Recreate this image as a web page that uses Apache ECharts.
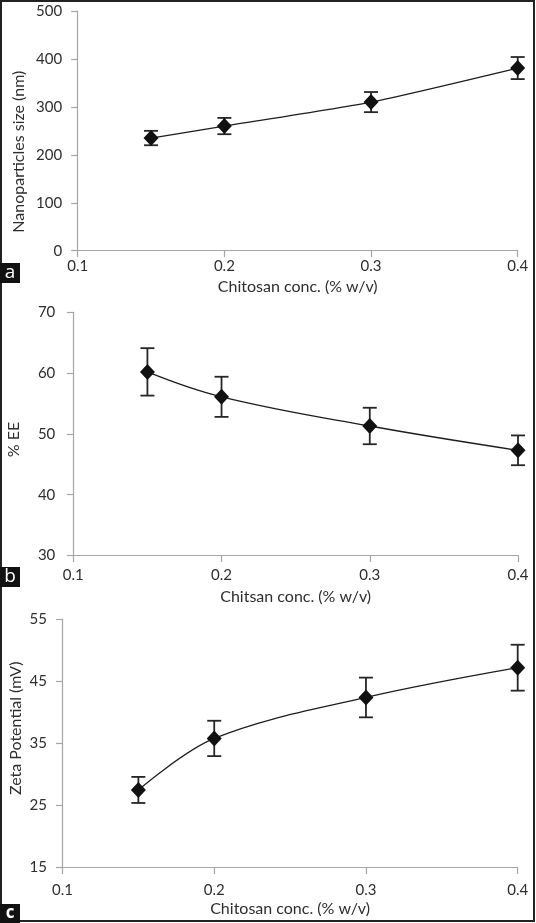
<!DOCTYPE html>
<html><head><meta charset="utf-8">
<script src="https://cdn.jsdelivr.net/npm/echarts@6/dist/echarts.min.js"></script>
<style>html,body{margin:0;padding:0;background:#fff}#c{width:536px;height:923px}</style>
</head><body><div id="c"></div>
<script>
// ---- data ----
const concX = [0.15, 0.2, 0.3, 0.4];
const xTicks = [0.1, 0.2, 0.3, 0.4];

const sizeNm = [235, 260, 310, 381];
const sizeErr = [15, 17, 21, 23];
const sizeTicks = [0, 100, 200, 300, 400, 500];

const eePct = [60.2, 56.1, 51.3, 47.3];
const eeErr = [3.9, 3.3, 3.0, 2.45];
const eeTicks = [30, 40, 50, 60, 70];

const zetaMv = [27.5, 35.8, 42.4, 47.2];
const zetaErr = [2.1, 2.85, 3.2, 3.7];
const zetaTicks = [15, 25, 35, 45, 55];

const xTitles = ['Chitosan conc. (% w/v)', 'Chitsan conc. (% w/v)', 'Chitosan conc. (% w/v)'];
const yTitles = ['Nanoparticles size (nm)', '% EE', 'Zeta Potential (mV)'];
const panelLetters = ['a', 'b', 'c'];

// ---- build ----
const FONT = 'Lato';
const TXT = '#2e2e2e';
const AX = '#a6a6a6';
const TICKFS = 15;
const TITLEFS = 16;
const grids = [
  {left: 77.7, top: 11, width: 440, height: 239.7},
  {left: 73.3, top: 312.3, width: 444.7, height: 243.2},
  {left: 62.5, top: 619.3, width: 455.2, height: 248.2}
];
const xLabelMargin = [7.5, 12, 15];
const xNameGap = [28, 33.5, 33];
const yLabelMargin = [15.5, 18, 15.5];
const panels = [
  {vals: sizeNm, err: sizeErr, ticks: sizeTicks, smooth: 0.2},
  {vals: eePct, err: eeErr, ticks: eeTicks, smooth: 0.4},
  {vals: zetaMv, err: zetaErr, ticks: zetaTicks, smooth: 0.35}
];

const xAxis = [], yAxis = [], series = [];
panels.forEach((p, i) => {
  xAxis.push({
    type: 'value', gridIndex: i, min: xTicks[0], max: xTicks[xTicks.length - 1],
    axisLine: {show: true, lineStyle: {color: AX, width: 1.2}},
    axisTick: {show: true, length: 6.5, lineStyle: {color: AX, width: 1.2}, customValues: xTicks},
    axisLabel: {customValues: xTicks, margin: xLabelMargin[i], color: TXT, fontFamily: FONT, fontSize: TICKFS,
      formatter: v => v.toFixed(1)},
    splitLine: {show: false},
    name: xTitles[i], nameLocation: 'middle', nameGap: xNameGap[i],
    nameTextStyle: {color: TXT, fontFamily: FONT, fontSize: TITLEFS}
  });
  yAxis.push({
    type: 'value', gridIndex: i, min: p.ticks[0], max: p.ticks[p.ticks.length - 1],
    axisLine: {show: true, lineStyle: {color: AX, width: 1.2}},
    axisTick: {show: true, length: 6.5, lineStyle: {color: AX, width: 1.2}, customValues: p.ticks},
    axisLabel: {customValues: p.ticks, margin: yLabelMargin[i], color: TXT, fontFamily: FONT, fontSize: TICKFS},
    splitLine: {show: false}
  });
  series.push({
    type: 'custom', xAxisIndex: i, yAxisIndex: i, z: 2,
    data: concX.map((x, k) => [x, p.vals[k] - p.err[k], p.vals[k] + p.err[k]]),
    renderItem: (params, api) => {
      const x = api.value(0);
      const lo = api.coord([x, api.value(1)]);
      const hi = api.coord([x, api.value(2)]);
      const hw = 7;
      const st = {stroke: '#262626', lineWidth: 1.8};
      return {type: 'group', children: [
        {type: 'line', shape: {x1: hi[0], y1: hi[1], x2: lo[0], y2: lo[1]}, style: st},
        {type: 'line', shape: {x1: hi[0] - hw, y1: hi[1], x2: hi[0] + hw, y2: hi[1]}, style: st},
        {type: 'line', shape: {x1: lo[0] - hw, y1: lo[1], x2: lo[0] + hw, y2: lo[1]}, style: st}
      ]};
    },
    silent: true
  });
  series.push({
    type: 'line', xAxisIndex: i, yAxisIndex: i, z: 3,
    data: concX.map((x, k) => [x, p.vals[k]]),
    smooth: p.smooth,
    symbol: 'diamond', symbolSize: [15, 16], showAllSymbol: true,
    itemStyle: {color: '#111'},
    lineStyle: {color: '#1e1e1e', width: 1.3},
    silent: true
  });
});

const yTitlePos = [[18.8, 151.7], [13.7, 439.5], [15.4, 728.3]];
const letterBox = [[263, 20], [567, 20], [904, 19]];
const letterY = [272.5, 576.5, 913];
const graphic = [];
graphic.push({type: 'rect', shape: {x: 1, y: 1, width: 533, height: 920},
  style: {fill: 'none', stroke: '#222', lineWidth: 2}, z: 100});
yTitles.forEach((t, i) => {
  graphic.push({type: 'text', x: yTitlePos[i][0], y: yTitlePos[i][1], rotation: Math.PI / 2,
    style: {text: t, align: 'center', verticalAlign: 'middle', fill: TXT, font: TITLEFS + 'px ' + FONT}});
});
panelLetters.forEach((l, i) => {
  graphic.push({type: 'rect', z: 110, shape: {x: 0, y: letterBox[i][0], width: 20, height: letterBox[i][1]}, style: {fill: '#111'}});
  graphic.push({type: 'text', z: 120, x: 10, y: letterY[i],
    style: {text: l, align: 'center', verticalAlign: 'middle', fill: '#fff', font: (i === 2 ? 'bold 17px' : '19px') + ' "Open Sans"'}});
});

const chart = echarts.init(document.getElementById('c'), null, {renderer: 'canvas'});
chart.setOption({
  animation: false,
  backgroundColor: '#fff',
  grid: grids.map(g => Object.assign({containLabel: false}, g)),
  xAxis, yAxis, series, graphic
});
</script></body></html>
